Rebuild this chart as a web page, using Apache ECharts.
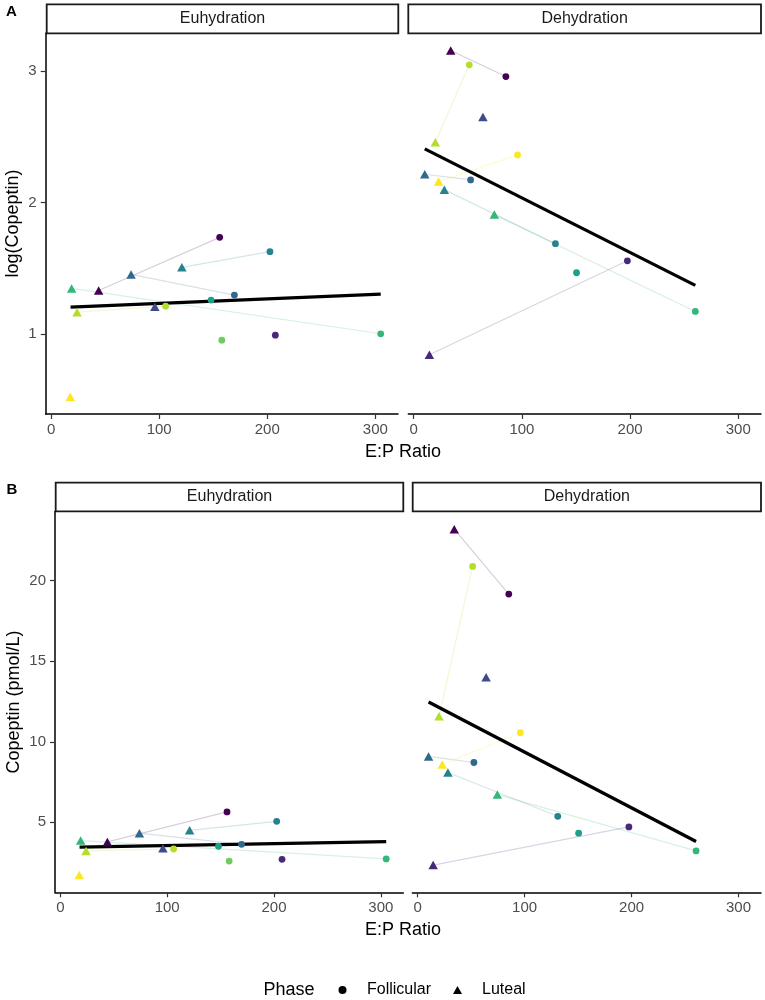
<!DOCTYPE html>
<html>
<head>
    <meta charset="utf-8">
    <script src="https://cdn.jsdelivr.net/npm/echarts@6/dist/echarts.min.js"></script>
    <style>
        html, body { margin: 0; padding: 0; background: #fff; }
        #chart { width: 765px; height: 1000px; }
    </style>
</head>
<body>
    <div id="chart"></div>
    <script>
        // one entry per subject (viridis colour order), null = phase not measured
        let subjectColors = ['#440154', '#482878', '#3E4A89', '#31688E', '#26828E',
                             '#1F9E89', '#35B779', '#6DCD59', '#B4DE2C', '#FDE725'];

        // E:P ratio
        let euhFolX = [156, 207.5, null, 169.6, 202.5, 148, 305, 158, 106, null];
        let euhLutX = [44, null, 96, 74, 121, null, 19, null, 24, 17.7];
        let dehFolX = [85.2, 197.5, null, 52.6, 131, 150.5, 260.3, null, 51.4, 96];
        let dehLutX = [34.2, 14.5, 64, 10.2, 28.3, null, 74.5, null, 20, 23];

        // log(Copeptin)
        let logEuhFol = [1.736, 0.992, null, 1.297, 1.627, 1.259, 1.003, 0.954, 1.213, null];
        let logEuhLut = [1.332, null, 1.208, 1.454, 1.508, null, 1.348, null, 1.167, 0.525];
        let logDehFol = [2.959, 1.558, null, 2.173, 1.688, 1.467, 1.173, null, 3.048, 2.363];
        let logDehLut = [3.157, 0.843, 2.652, 2.216, 2.099, null, 1.909, null, 2.459, 2.160];

        // Copeptin (pmol/L)
        let copEuhFol = [5.64, 2.70, null, 3.63, 5.06, 3.51, 2.72, 2.59, 3.34, null];
        let copEuhLut = [3.78, null, 3.38, 4.32, 4.50, null, 3.86, null, 3.22, 1.72];
        let copDehFol = [19.17, 4.71, null, 8.71, 5.37, 4.32, 3.22, null, 20.89, 10.56];
        let copDehLut = [23.2, 2.34, 14.0, 9.09, 8.09, null, 6.72, null, 11.58, 8.59];

        // fitted lines (end points)
        let fitEuhX = [18, 305];
        let fitDehX = [10.2, 260.3];
        let fitLogEuh = [1.206, 1.305];
        let fitLogDeh = [2.409, 1.371];
        let fitCopEuh = [3.46, 3.80];
        let fitCopDeh = [12.47, 3.80];

        let xTicks = [0, 100, 200, 300];
        let logTicks = [1, 2, 3];
        let copTicks = [5, 10, 15, 20];

        const FONT = '"Liberation Sans", Arial, sans-serif';

        var chart = echarts.init(document.getElementById('chart'), null, { renderer: 'canvas' });

        let grids = [
            { left: 45.7, top: 33, width: 352.3, height: 381 },
            { left: 408.3, top: 33, width: 352.7, height: 381 },
            { left: 55, top: 511.5, width: 348.3, height: 380.8 },
            { left: 412.3, top: 511.5, width: 348.7, height: 380.8 }
        ];

        function xAxisFor(i) {
            return {
                type: 'value', gridIndex: i, min: -5, max: 321,
                axisLine: { onZero: false, lineStyle: { color: '#000', width: 1.5 } },
                axisTick: { customValues: xTicks, length: 5, lineStyle: { color: '#333', width: 1.2 } },
                axisLabel: { customValues: xTicks, color: '#4d4d4d', fontSize: 15, margin: 8, fontFamily: FONT },
                splitLine: { show: false }
            };
        }

        function yAxisFor(i, min, max, ticks, visible) {
            return {
                type: 'value', gridIndex: i, min: min, max: max, show: visible,
                axisLine: { onZero: false, lineStyle: { color: '#000', width: 1.5 } },
                axisTick: { customValues: ticks, length: 5, lineStyle: { color: '#333', width: 1.2 } },
                axisLabel: { customValues: ticks, color: '#4d4d4d', fontSize: 15, margin: 9, fontFamily: FONT },
                splitLine: { show: false }
            };
        }

        function facetSeries(i, folX, folY, lutX, lutY, fitX, fitY) {
            let out = [];
            subjectColors.forEach((c, s) => {
                if (folY[s] != null && lutY[s] != null) {
                    out.push({
                        type: 'line', xAxisIndex: i, yAxisIndex: i, silent: true,
                        symbol: 'none', z: 1,
                        lineStyle: { color: c, width: 1.2, opacity: 0.2 },
                        data: [[lutX[s], lutY[s]], [folX[s], folY[s]]]
                    });
                }
            });
            out.push({
                type: 'line', xAxisIndex: i, yAxisIndex: i, silent: true,
                symbol: 'none', z: 2,
                lineStyle: { color: '#000', width: 3.3 },
                data: [[fitX[0], fitY[0]], [fitX[1], fitY[1]]]
            });
            function pts(xs, ys) {
                let d = [];
                ys.forEach((v, s) => {
                    if (v != null) d.push({ value: [xs[s], v], itemStyle: { color: subjectColors[s], opacity: 1 } });
                });
                return d;
            }
            out.push({
                name: 'Follicular', type: 'scatter', xAxisIndex: i, yAxisIndex: i, z: 3,
                symbol: 'circle', symbolSize: 6.8, itemStyle: { opacity: 1 }, data: pts(folX, folY)
            });
            out.push({
                name: 'Luteal', type: 'scatter', xAxisIndex: i, yAxisIndex: i, z: 3,
                symbol: 'triangle', symbolSize: [9.5, 8.5], itemStyle: { opacity: 1 }, data: pts(lutX, lutY)
            });
            return out;
        }

        function strip(x, y, w, h, label) {
            return [
                { type: 'rect', shape: { x: x, y: y, width: w, height: h },
                  style: { fill: '#fff', stroke: '#1a1a1a', lineWidth: 1.8 } },
                { type: 'text', x: x + w / 2, y: y + h / 2,
                  style: { text: label, fill: '#1a1a1a', font: '16px ' + FONT, align: 'center', verticalAlign: 'middle' } }
            ];
        }

        function label(x, y, txt, font, rot) {
            return { type: 'text', x: x, y: y, rotation: rot || 0,
                     style: { text: txt, fill: '#000', font: font, align: 'center', verticalAlign: 'middle' } };
        }

        let graphics = [].concat(
            strip(46.7, 4.3, 351.6, 29, 'Euhydration'),
            strip(408.3, 4.3, 352.7, 29, 'Dehydration'),
            strip(55.7, 482.7, 347.6, 28.6, 'Euhydration'),
            strip(412.7, 482.7, 348.3, 28.6, 'Dehydration'),
            [
                label(11.5, 11.5, 'A', 'bold 15px ' + FONT),
                label(12, 490, 'B', 'bold 15px ' + FONT),
                label(13.5, 223.5, 'log(Copeptin)', '18px ' + FONT, Math.PI / 2),
                label(14, 702, 'Copeptin (pmol/L)', '18px ' + FONT, Math.PI / 2),
                label(403, 451.7, 'E:P Ratio', '18px ' + FONT),
                label(403, 929.7, 'E:P Ratio', '18px ' + FONT),
                label(289, 990, 'Phase', '18px ' + FONT)
            ]
        );

        var option = {
            animation: false,
            grid: grids,
            xAxis: [xAxisFor(0), xAxisFor(1), xAxisFor(2), xAxisFor(3)],
            yAxis: [
                yAxisFor(0, 0.393, 3.29, logTicks, true),
                yAxisFor(1, 0.393, 3.29, logTicks, false),
                yAxisFor(2, 0.65, 24.3, copTicks, true),
                yAxisFor(3, 0.65, 24.3, copTicks, false)
            ],
            legend: {
                left: 338.5, top: 982, padding: 0,
                itemWidth: 9, itemHeight: 8, itemGap: 22,
                selectedMode: false,
                itemStyle: { color: '#000', opacity: 1 },
                textStyle: { fontSize: 16, color: '#000', fontFamily: FONT, padding: [0, 0, 0, 15] },
                data: [{ name: 'Follicular', icon: 'circle' }, { name: 'Luteal', icon: 'triangle' }]
            },
            graphic: graphics,
            series: [].concat(
                facetSeries(0, euhFolX, logEuhFol, euhLutX, logEuhLut, fitEuhX, fitLogEuh),
                facetSeries(1, dehFolX, logDehFol, dehLutX, logDehLut, fitDehX, fitLogDeh),
                facetSeries(2, euhFolX, copEuhFol, euhLutX, copEuhLut, fitEuhX, fitCopEuh),
                facetSeries(3, dehFolX, copDehFol, dehLutX, copDehLut, fitDehX, fitCopDeh)
            )
        };
        chart.setOption(option);
    </script>
</body>
</html>
